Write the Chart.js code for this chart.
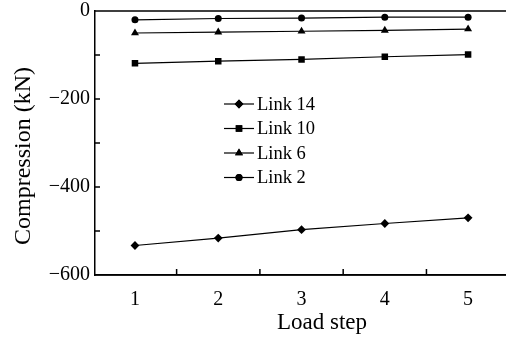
<!DOCTYPE html>
<html lang="en">

<head>
  <meta charset="UTF-8">
  <title>Compression per load step</title>
  <script src="https://cdn.jsdelivr.net/npm/chart.js@4.4.1/dist/chart.umd.min.js"></script>
  <style>
    html, body { margin: 0; padding: 0; background: #fff; overflow: hidden; }
  </style>
</head>

<body>
  <!-- the frame runs past the right edge of the page, so the canvas is a bit wider -->
  <canvas id="chart" width="511" height="338"></canvas>
</body>

<script>
  const steps = [1, 2, 3, 4, 5];
  const link14 = [-533, -516, -497, -483, -470];
  const link10 = [-119, -114, -110, -104, -99];
  const link6 = [-50, -48, -46, -44, -41];
  const link2 = [-20, -17, -16, -14, -14];
  const yTicks = [-600, -400, -200, 0];
  const yMinor = [-500, -300, -100];
  const xMinor = [1.5, 2.5, 3.5, 4.5];

  const serif = 'Liberation Serif, Times New Roman, serif';

  function series(label, values, style, radius) {
    return {
      label: label,
      data: steps.map((s, i) => ({ x: s, y: values[i] })),
      borderColor: '#000',
      backgroundColor: '#000',
      borderWidth: 1.2,
      pointStyle: style,
      pointRadius: radius,
      pointBorderWidth: 0,
      tension: 0
    };
  }

  // inward tick marks, top frame line, axis titles and the in-plot legend
  const frame = {
    id: 'frame',
    afterDraw(chart) {
      const ctx = chart.ctx;
      const a = chart.chartArea;
      const xs = chart.scales.x, ys = chart.scales.y;
      ctx.save();
      ctx.strokeStyle = '#000';
      ctx.lineWidth = 1.5;
      ctx.beginPath();
      ctx.moveTo(a.left, a.top);
      ctx.lineTo(chart.width, a.top);
      ctx.moveTo(a.left, a.bottom);
      ctx.lineTo(chart.width, a.bottom);
      for (const v of yTicks.concat(yMinor)) {
        const y = ys.getPixelForValue(v);
        ctx.moveTo(a.left, y);
        ctx.lineTo(a.left + 5, y);
      }
      for (const v of xMinor) {
        const x = xs.getPixelForValue(v);
        ctx.moveTo(x, a.bottom);
        ctx.lineTo(x, a.bottom - 6);
      }
      ctx.stroke();

      ctx.fillStyle = '#000';
      ctx.textAlign = 'center';
      ctx.textBaseline = 'middle';
      ctx.font = '23px ' + serif;
      ctx.fillText('Load step', 322, 323);
      ctx.save();
      ctx.translate(24, 156);
      ctx.rotate(-Math.PI / 2);
      ctx.font = '24px ' + serif;
      ctx.fillText('Compression (kN)', 0, 0);
      ctx.restore();

      // legend
      ctx.font = '18.5px ' + serif;
      ctx.textAlign = 'left';
      chart.data.datasets.forEach((ds, i) => {
        const y = 104 + i * 24.5;
        ctx.lineWidth = 1.2;
        ctx.beginPath();
        ctx.moveTo(224, y);
        ctx.lineTo(254, y);
        ctx.stroke();
        Chart.helpers.drawPoint(ctx, {
          pointStyle: ds.pointStyle, radius: ds.pointRadius, borderWidth: 0
        }, 239, y);
        ctx.fill();
        ctx.fillText(ds.label, 257, y + 1);
      });
      ctx.restore();
    }
  };

  new Chart(document.getElementById('chart'), {
    type: 'line',
    data: {
      datasets: [
        series('Link 14', link14, 'rectRot', 4.4),
        series('Link 10', link10, 'rect', 4.6),
        series('Link 6', link6, 'triangle', 4.6),
        series('Link 2', link2, 'circle', 3.5)
      ]
    },
    options: {
      responsive: false,
      animation: false,
      layout: { padding: { top: 11, right: 0, left: 0, bottom: 0 } },
      plugins: { legend: { display: false }, tooltip: { enabled: false } },
      scales: {
        x: {
          type: 'linear',
          min: 0.52,
          max: 5.46,
          afterBuildTicks: s => { s.ticks = steps.map(v => ({ value: v })); },
          afterFit: s => { s.height = 63; s.paddingLeft = 0; s.paddingRight = 0; },
          grid: { display: false, drawTicks: false },
          border: { display: true, color: '#000', width: 1.5 },
          ticks: { color: '#000', padding: 13, font: { family: serif, size: 20 } }
        },
        y: {
          min: -600,
          max: 0,
          afterBuildTicks: s => { s.ticks = yTicks.map(v => ({ value: v })); },
          afterFit: s => { s.width = 95; s.paddingTop = 0; s.paddingBottom = 0; },
          grid: { display: false, drawTicks: false },
          border: { display: true, color: '#000', width: 1.5 },
          ticks: {
            color: '#000', padding: 5, font: { family: serif, size: 20 },
            callback: v => String(v).replace('-', '\u2212')
          }
        }
      }
    },
    plugins: [frame]
  });
</script>

</html>
